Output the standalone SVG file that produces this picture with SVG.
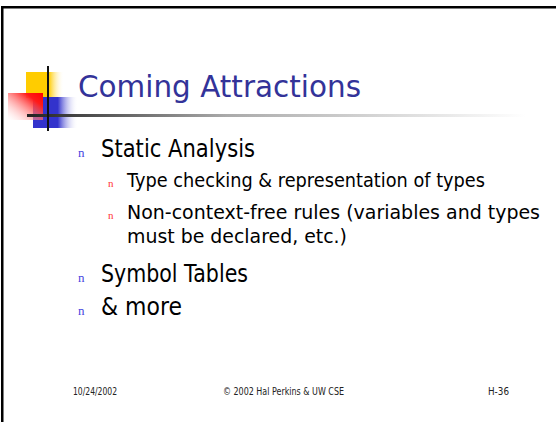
<svg xmlns="http://www.w3.org/2000/svg" width="556" height="422" viewBox="0 0 556 422">
  <defs>
    <linearGradient id="gYellow" x1="0" y1="0" x2="1" y2="0">
      <stop offset="0" stop-color="#ffcc00"/>
      <stop offset="0.6" stop-color="#ffcc00"/>
      <stop offset="1" stop-color="#ffffff" stop-opacity="0"/>
    </linearGradient>
    <linearGradient id="gRed" x1="1" y1="0" x2="0" y2="1">
      <stop offset="0" stop-color="#ff0000"/>
      <stop offset="0.25" stop-color="#ff1a1a"/>
      <stop offset="1" stop-color="#ffffff" stop-opacity="0.2"/>
    </linearGradient>
    <linearGradient id="gBlue" x1="0" y1="0" x2="1" y2="0">
      <stop offset="0" stop-color="#3333cc"/>
      <stop offset="0.55" stop-color="#3333cc"/>
      <stop offset="1" stop-color="#ffffff" stop-opacity="0"/>
    </linearGradient>
    <linearGradient id="gRule" x1="27" y1="0" x2="525" y2="0" gradientUnits="userSpaceOnUse">
      <stop offset="0" stop-color="#222222"/>
      <stop offset="0.15" stop-color="#555555"/>
      <stop offset="0.4" stop-color="#aaaaaa"/>
      <stop offset="1" stop-color="#ffffff"/>
    </linearGradient>
  </defs>
  <style>
    .title { font-family: "DejaVu Sans", "Liberation Sans", sans-serif; font-size: 30px; fill: #333399; }
    .l1 { font-family: "DejaVu Sans", "Liberation Sans", sans-serif; font-size: 24px; fill: #000000; }
    .l2 { font-family: "DejaVu Sans", "Liberation Sans", sans-serif; font-size: 19.5px; fill: #000000; }
    .b1 { font-family: "Liberation Serif", serif; font-size: 13px; fill: #4646e0; }
    .b2 { font-family: "Liberation Serif", serif; font-size: 11px; fill: #ff3333; }
    .foot { font-family: "DejaVu Sans", "Liberation Sans", sans-serif; font-size: 10px; fill: #222222; }
  </style>

  <rect x="0" y="0" width="556" height="422" fill="#ffffff"/>

  <!-- slide frame: top and left edges -->
  <rect x="1" y="6" width="555" height="2.5" fill="#000000"/>
  <rect x="1" y="6" width="2.5" height="416" fill="#000000"/>

  <!-- title logo -->
  <g id="logo">
    <rect x="26" y="72" width="38" height="26" fill="url(#gYellow)"/>
    <rect x="33" y="97" width="45" height="31" fill="url(#gBlue)"/>
    <rect x="8" y="93" width="35" height="27" fill="url(#gRed)"/>
    <rect x="27" y="114" width="498" height="3" fill="url(#gRule)"/>
    <rect x="47" y="66" width="2" height="65" fill="#111111"/>
  </g>

  <g id="title">
    <text class="title" x="78" y="97" textLength="283" lengthAdjust="spacingAndGlyphs">Coming Attractions</text>
  </g>

  <g id="bullets">
    <text class="b1" x="78" y="157">n</text>
    <text class="l1" x="101" y="157" textLength="154" lengthAdjust="spacingAndGlyphs">Static Analysis</text>

    <text class="b2" x="108" y="187">n</text>
    <text class="l2" x="127" y="187" textLength="358" lengthAdjust="spacingAndGlyphs">Type checking &amp; representation of types</text>

    <text class="b2" x="108" y="219">n</text>
    <text class="l2" x="127" y="219" textLength="413" lengthAdjust="spacingAndGlyphs">Non-context-free rules (variables and types</text>
    <text class="l2" x="127" y="243" textLength="220" lengthAdjust="spacingAndGlyphs">must be declared, etc.)</text>

    <text class="b1" x="78" y="282">n</text>
    <text class="l1" x="101" y="282" textLength="147" lengthAdjust="spacingAndGlyphs">Symbol Tables</text>

    <text class="b1" x="78" y="315">n</text>
    <text class="l1" x="101" y="315" textLength="81" lengthAdjust="spacingAndGlyphs">&amp; more</text>
  </g>

  <g id="footer">
    <text class="foot" x="73" y="395" textLength="44" lengthAdjust="spacingAndGlyphs">10/24/2002</text>
    <text class="foot" x="223" y="395" textLength="121" lengthAdjust="spacingAndGlyphs">© 2002 Hal Perkins &amp; UW CSE</text>
    <text class="foot" x="488" y="395" textLength="21" lengthAdjust="spacingAndGlyphs">H-36</text>
  </g>
</svg>
